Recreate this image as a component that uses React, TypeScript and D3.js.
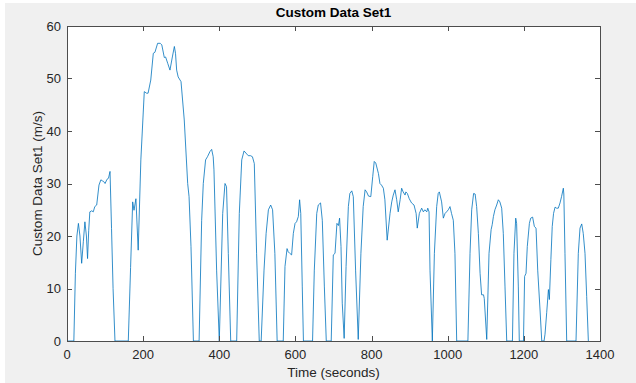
import React, { useEffect, useRef } from 'react';
import * as d3 from 'd3';

const time = [
  0, 18, 22, 26, 30, 34, 38.5, 43, 47, 51, 54, 57, 60, 65, 69, 73, 78, 84, 89, 93, 96, 100, 105, 109, 113, 117, 121, 126,
  161, 167, 172.5, 176, 181, 187, 194, 203, 209, 213, 220, 226.7, 231, 238, 245, 249, 255.6, 259, 264.5, 270.5, 276.7,
  282, 285, 288, 292, 299.5, 308, 317, 320.6, 325.7, 332, 347, 353.7, 358, 364, 369, 375.6, 380, 384, 386, 393, 400,
  409, 415, 419, 423.7, 430, 445.7, 452.6, 459, 465, 470, 476, 482, 487, 492, 498, 505, 510, 517.5, 523, 529, 535, 540,
  546, 552, 568, 572.6, 578, 581, 585, 590, 594.5, 599, 603, 607.6, 611, 614, 618, 621, 645, 649.6, 656, 660, 666,
  670.6, 676, 681, 694, 699.5, 704, 709, 713, 716, 719.7, 723, 728, 733, 739, 743, 748, 752, 758, 765, 772, 778, 783,
  787, 792, 798, 803, 807, 811, 818, 822, 826, 831, 835, 841, 848.5, 853, 857, 861.5, 866, 870, 875, 879, 883, 888,
  890, 894, 899, 905, 911.5, 917, 920, 925.5, 931.6, 936, 940, 945, 947.6, 951, 953.5, 959.6, 965, 971, 975, 978, 984,
  988.5, 993, 997, 1001.6, 1006, 1010, 1014.7, 1019, 1023.6, 1053, 1058.6, 1063, 1068, 1072, 1076, 1080.5, 1085, 1089,
  1094, 1096, 1102.5, 1108.5, 1114, 1117, 1120, 1124, 1128.6, 1133, 1137, 1141.8, 1146, 1150.5, 1155, 1170, 1174,
  1178.6, 1181, 1185.5, 1188, 1199, 1202, 1205.7, 1209, 1214.5, 1218, 1223, 1227.6, 1232, 1236.4, 1242.5, 1247, 1253,
  1255.6, 1260, 1264.5, 1267, 1271, 1274.5, 1278, 1282, 1286, 1290.5, 1295, 1299, 1303.7, 1305, 1308, 1312.5, 1337,
  1343, 1347.5, 1352, 1356, 1360.6, 1365, 1369.4,
];

const speed = [
  0, 0, 12.9, 20, 22.4, 20, 14.8, 19, 22.7, 20, 15.7, 21, 24.6, 24.8, 24.6, 25.6, 25.9, 29.7, 30.7, 30.5, 30.4, 30, 30.8, 31, 32.3, 21.4, 10, 0,
  0, 14, 26.5, 24.9, 27.1, 17.3, 34.5, 47.5, 47.2, 47.2, 49.7, 54.8, 55, 56.7, 56.7, 56.4, 54, 54.1, 52.9, 51.6, 54.1,
  56.1, 54.8, 51.6, 50.3, 49.4, 42.1, 30, 27.5, 18, 0, 0, 23, 30, 34.5, 35.1, 36.1, 36.5, 35.1, 32.6, 13.5, 0,
  24.3, 30, 29.4, 16.7, 0, 0, 24.3, 34.5, 36.2, 35.8, 35.3, 35.3, 35.1, 33.8, 16.7, 0, 0, 13.5, 20.5, 25, 25.9, 25,
  16.7, 0, 0, 14.2, 17.6, 17, 16.7, 16.4, 20.5, 22.4, 22.7, 23.7, 26.9, 24.3, 10.3, 0, 0, 13.5, 24.3, 25.9, 26.3,
  23, 10.3, 0, 0, 16.4, 16.7, 22.4, 22, 23.4, 18, 7.2, 0.5, 14.2, 25.6, 28.1, 28.6, 27.5, 13.5, 0.3, 16.7, 25.6, 28.8,
  28.4, 27.6, 27.5, 31.3, 34.2, 33.9, 31.9, 30, 29.7, 29.1, 26.9, 19.2, 24.3, 26.5, 27.8, 28.8, 26.9, 24.6, 26.9, 29.1, 28.4, 27.8,
  28.4, 28.1, 27.1, 26.3, 25.9, 24.3, 21.5, 24.3, 25.3, 24.6, 25, 24.6, 25.3, 24.6, 13.5, 0, 16.7, 25.6, 28.1, 28.4, 26.5,
  23.4, 24.3, 24.6, 25, 25.6, 24.3, 23, 16.7, 0, 0, 16.7, 25, 28.1, 28, 25.6, 20.5, 12.9, 8.8,
  8.8, 8.1, 0.3, 16.7, 21.2, 22.2, 23.7, 25, 25.9, 26.9, 26.5, 25.3, 20.5, 10.3, 0, 0, 16.7,
  23.4, 22.4, 10.3, 0, 0, 12.3, 12.9, 18, 22.4, 23.4, 23.6, 21.8, 21.5, 13.5, 5.9, 0, 0,
  1.3, 5.4, 9.8, 7.9, 15.5, 21.8, 24.3, 25.5, 25.3, 25.3, 26.3, 27.5, 29.1, 28, 16.7, 0, 0,
  16.7, 21.5, 22.3, 20.5, 16.7, 8.5, 0,
];

const xTicks = [0, 200, 400, 600, 800, 1000, 1200, 1400];
const yTicks = [0, 10, 20, 30, 40, 50, 60];

const W = 636;
const H = 383;
const margin = { left: 67, right: 36, top: 26, bottom: 42 };

export default function App() {
  const ref = useRef<SVGSVGElement>(null);

  useEffect(() => {
    const svg = d3.select(ref.current);
    svg.selectAll('*').remove();

    const x = d3.scaleLinear().domain([0, 1400]).range([margin.left, W - margin.right]);
    const y = d3.scaleLinear().domain([0, 60]).range([H - margin.bottom, margin.top]);

    svg.append('rect').attr('width', W).attr('height', H).attr('fill', '#ffffff');
    svg.append('rect').attr('x', 5).attr('y', 3).attr('width', W - 5).attr('height', H - 3).attr('fill', '#f0f0f0');

    svg
      .append('rect')
      .attr('x', x(0))
      .attr('y', y(60))
      .attr('width', x(1400) - x(0))
      .attr('height', y(0) - y(60))
      .attr('fill', '#ffffff');

    const pts = time.map((t, i) => [t, speed[i]] as [number, number]);
    const line = d3
      .line<[number, number]>()
      .x((d) => x(d[0]))
      .y((d) => y(d[1]));

    svg
      .append('path')
      .attr('d', line(pts))
      .attr('fill', 'none')
      .attr('stroke', '#0072bd')
      .attr('stroke-width', 0.8)
      .attr('stroke-linejoin', 'round');

    const font = 'Liberation Sans, Arial, Helvetica, sans-serif';
    const axisColor = '#4d4d4d';
    const tickLen = 5;

    // ticks inward on all four sides (box on)
    const g = svg.append('g').attr('stroke', axisColor).attr('stroke-width', 1);
    xTicks.forEach((t) => {
      const px = Math.round(x(t)) + 0.5;
      g.append('line').attr('x1', px).attr('x2', px).attr('y1', y(0)).attr('y2', y(0) - tickLen);
      g.append('line').attr('x1', px).attr('x2', px).attr('y1', y(60)).attr('y2', y(60) + tickLen);
    });
    yTicks.forEach((t) => {
      const py = Math.round(y(t)) + 0.5;
      g.append('line').attr('x1', x(0)).attr('x2', x(0) + tickLen).attr('y1', py).attr('y2', py);
      g.append('line').attr('x1', x(1400)).attr('x2', x(1400) - tickLen).attr('y1', py).attr('y2', py);
    });
    g.append('rect')
      .attr('x', Math.round(x(0)) + 0.5)
      .attr('y', Math.round(y(60)) + 0.5)
      .attr('width', Math.round(x(1400) - x(0)))
      .attr('height', Math.round(y(0) - y(60)))
      .attr('fill', 'none');

    const labels = svg.append('g').attr('font-family', font).attr('fill', '#262626');
    xTicks.forEach((t) => {
      labels
        .append('text')
        .attr('x', x(t))
        .attr('y', y(0) + 18)
        .attr('text-anchor', 'middle')
        .attr('font-size', 13)
        .text(t);
    });
    yTicks.forEach((t) => {
      labels
        .append('text')
        .attr('x', x(0) - 6)
        .attr('y', y(t) + 4.5)
        .attr('text-anchor', 'end')
        .attr('font-size', 13)
        .text(t);
    });

    labels
      .append('text')
      .attr('x', (x(0) + x(1400)) / 2)
      .attr('y', 17)
      .attr('text-anchor', 'middle')
      .attr('font-size', 13.5)
      .attr('font-weight', 'bold')
      .attr('fill', '#000')
      .text('Custom Data Set1');

    labels
      .append('text')
      .attr('x', (x(0) + x(1400)) / 2)
      .attr('y', 377)
      .attr('text-anchor', 'middle')
      .attr('font-size', 13.5)
      .text('Time (seconds)');

    labels
      .append('text')
      .attr('transform', `translate(42,${(y(0) + y(60)) / 2}) rotate(-90)`)
      .attr('text-anchor', 'middle')
      .attr('font-size', 13.5)
      .text('Custom Data Set1 (m/s)');
  }, []);

  return (
    <svg
      ref={ref}
      width={W}
      height={H}
      style={{ position: 'absolute', left: 0, top: 0, display: 'block' }}
    ></svg>
  );
}
